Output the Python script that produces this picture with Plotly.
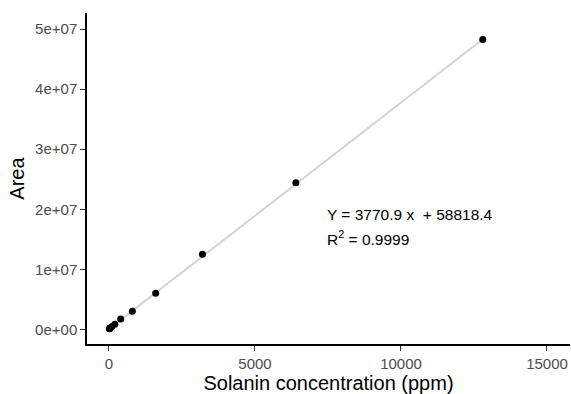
import plotly.graph_objects as go

# Data
concentration = [12.5, 25, 50, 100, 200, 400, 800, 1600, 3200, 6400, 12800]
area = [0.10e6, 0.15e6, 0.25e6, 0.45e6, 0.85e6, 1.72e6, 3.0e6, 6.0e6, 1.25e7, 2.44e7, 4.83e7]

slope = 3770.9
intercept = 58818.4
r_squared = 0.9999

x_ticks = [0, 5000, 10000, 15000]
x_tick_labels = ["0", "5000", "10000", "15000"]
y_ticks = [0, 1e7, 2e7, 3e7, 4e7, 5e7]
y_tick_labels = ["0e+00", "1e+07", "2e+07", "3e+07", "4e+07", "5e+07"]

fit_x = [min(concentration), max(concentration)]
fit_y = [slope * v + intercept for v in fit_x]

FONT = "Liberation Sans, Arial, Helvetica, sans-serif"

fig = go.Figure()
fig.add_trace(go.Scatter(x=fit_x, y=fit_y, mode="lines",
                         line=dict(color="#d3d3d3", width=2), hoverinfo="skip",
                         showlegend=False))
fig.add_trace(go.Scatter(x=concentration, y=area, mode="markers",
                         marker=dict(color="black", size=7), showlegend=False))

fig.add_annotation(x=7400, y=1.92e7, xref="x", yref="y",
                   text=f"Y = {slope} x  + {intercept}", showarrow=False,
                   xanchor="left", yanchor="middle",
                   font=dict(family=FONT, size=15.5, color="black"))
fig.add_annotation(x=7400, y=1.52e7, xref="x", yref="y",
                   text=f"R<sup>2</sup> = {r_squared}", showarrow=False,
                   xanchor="left", yanchor="middle",
                   font=dict(family=FONT, size=15.5, color="black"))

axis_common = dict(showgrid=False, zeroline=False, showline=True,
                   linecolor="black", linewidth=1.5, ticks="outside",
                   ticklen=5, tickwidth=1.2, tickcolor="#333333",
                   tickfont=dict(family=FONT, size=15, color="#4d4d4d"),
                   ticklabeloverflow="allow",
                   mirror=False, automargin=False)

fig.update_layout(
    width=571, height=394,
    margin=dict(l=87, r=1, t=13, b=50),
    paper_bgcolor="white", plot_bgcolor="white",
    font=dict(family=FONT),
    xaxis=dict(range=[-753, 15788], tickvals=x_ticks, ticktext=x_tick_labels,
               title=dict(text="Solanin concentration (ppm)", standoff=0,
                          font=dict(family=FONT, size=20, color="black")),
               **axis_common),
    yaxis=dict(range=[-2.45e6, 5.27e7], tickvals=y_ticks, ticktext=y_tick_labels,
               title=dict(text="Area", standoff=5,
                          font=dict(family=FONT, size=20, color="black")),
               **axis_common),
)

fig.write_html("out.html", config={"displayModeBar": False},
               post_script="document.body.style.margin='0';document.body.style.overflow='hidden';")
